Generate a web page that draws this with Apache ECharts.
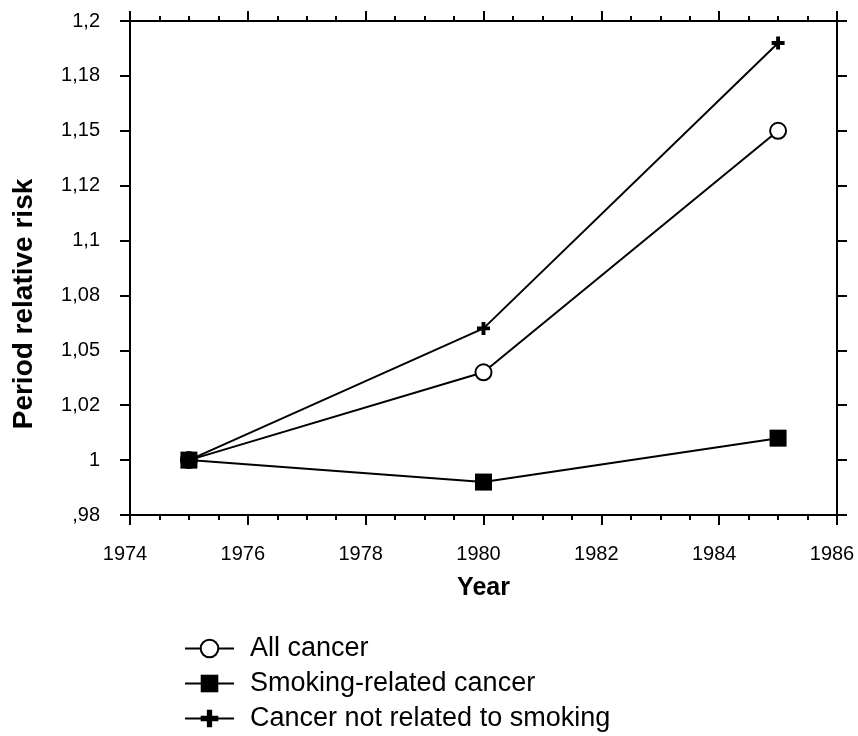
<!DOCTYPE html>
<html>
<head>
<meta charset="utf-8">
<script src="https://cdn.jsdelivr.net/npm/echarts@6/dist/echarts.min.js"></script>
<style>
  html, body { margin: 0; padding: 0; background: #fff; }
  #chart { width: 858px; height: 736px; }
</style>
</head>
<body>
<div id="chart"></div>
<script>
// Survey years
const years = [1975, 1980, 1985];

// Period relative risk per group
const allCancer = [1.00, 1.04, 1.15];
const smokingRelated = [1.00, 0.99, 1.01];
const notSmokingRelated = [1.00, 1.06, 1.19];

// Y tick labels, from bottom (0.975) to top (1.2) every 0.025
const yTickLabels = [',98', '1', '1,02', '1,05', '1,08', '1,1', '1,12', '1,15', '1,18', '1,2'];

const seriesNames = ['All cancer', 'Smoking-related cancer', 'Cancer not related to smoking'];

const FONT = '"Liberation Sans", Arial, Helvetica, sans-serif';
const Y_MIN = 0.975, Y_MAX = 1.2, Y_STEP = 0.025;

const plusPath = 'path://M3.5,0H6.5V3.5H10V6.5H6.5V10H3.5V6.5H0V3.5H3.5Z';

const chart = echarts.init(document.getElementById('chart'), null, { renderer: 'canvas' });

function pairs(vals) {
  return years.map((y, i) => [y, vals[i]]);
}

const axisLine = { show: true, onZero: false, lineStyle: { color: '#000', width: 2 } };

const xCommon = {
  type: 'value', min: 1974, max: 1986, interval: 2,
  axisLine: axisLine,
  axisTick: { show: true, inside: false, length: 10, lineStyle: { color: '#000', width: 2 } },
  minorTick: { show: true, splitNumber: 4, length: 5, lineStyle: { color: '#000', width: 2 } },
  splitLine: { show: false }, minorSplitLine: { show: false }
};

const yCommon = {
  type: 'value', min: Y_MIN, max: Y_MAX, interval: Y_STEP,
  axisLine: axisLine,
  axisTick: { show: true, inside: false, length: 10, lineStyle: { color: '#000', width: 2 } },
  splitLine: { show: false }
};

chart.setOption({
  animation: false,
  backgroundColor: '#fff',
  textStyle: { fontFamily: FONT },
  grid: { left: 130, right: 21, top: 21, bottom: 221, containLabel: false },
  xAxis: [
    Object.assign({}, xCommon, {
      position: 'bottom',
      name: 'Year', nameLocation: 'middle', nameGap: 61,
      nameTextStyle: { color: '#000', fontSize: 25, fontWeight: 'bold', fontFamily: FONT },
      axisLabel: {
        color: '#000', fontSize: 20, fontFamily: FONT, margin: 29,
        padding: [0, 10, 0, 0],
        formatter: v => String(v)
      }
    }),
    Object.assign({}, xCommon, { position: 'top', axisLabel: { show: false } })
  ],
  yAxis: [
    Object.assign({}, yCommon, {
      position: 'left',
      axisLabel: {
        color: '#000', fontSize: 20, fontFamily: FONT, margin: 30,
        formatter: v => yTickLabels[Math.round((v - Y_MIN) / Y_STEP)]
      }
    }),
    Object.assign({}, yCommon, { position: 'right', axisLabel: { show: false } })
  ],
  legend: {
    orient: 'vertical', left: 179, top: 630, height: 110,
    itemWidth: 49, itemHeight: 22, itemGap: 8,
    data: seriesNames,
    lineStyle: { width: 2, color: '#000' },
    textStyle: { color: '#000', fontSize: 27, fontFamily: FONT, padding: [0, 0, 0, 11] }
  },
  graphic: [{
    type: 'text', x: 24, y: 304, rotation: Math.PI / 2,
    style: {
      text: 'Period relative risk', fill: '#000',
      font: 'bold 28px ' + FONT, textAlign: 'center', textVerticalAlign: 'middle'
    }
  }],
  series: [
    {
      name: seriesNames[0], type: 'line', data: pairs(allCancer), z: 2,
      symbol: 'circle', symbolSize: 16,
      itemStyle: { color: '#fff', borderColor: '#000', borderWidth: 2 },
      lineStyle: { color: '#000', width: 2 }
    },
    {
      name: seriesNames[1], type: 'line', data: pairs(smokingRelated), z: 4,
      symbol: 'rect', symbolSize: 17,
      itemStyle: { color: '#000', borderColor: '#000', borderWidth: 0 },
      lineStyle: { color: '#000', width: 2 }
    },
    {
      name: seriesNames[2], type: 'line', data: pairs(notSmokingRelated), z: 3,
      symbol: plusPath, symbolSize: 13,
      itemStyle: { color: '#000', borderWidth: 0 },
      lineStyle: { color: '#000', width: 2 }
    }
  ]
});
</script>
</body>
</html>
